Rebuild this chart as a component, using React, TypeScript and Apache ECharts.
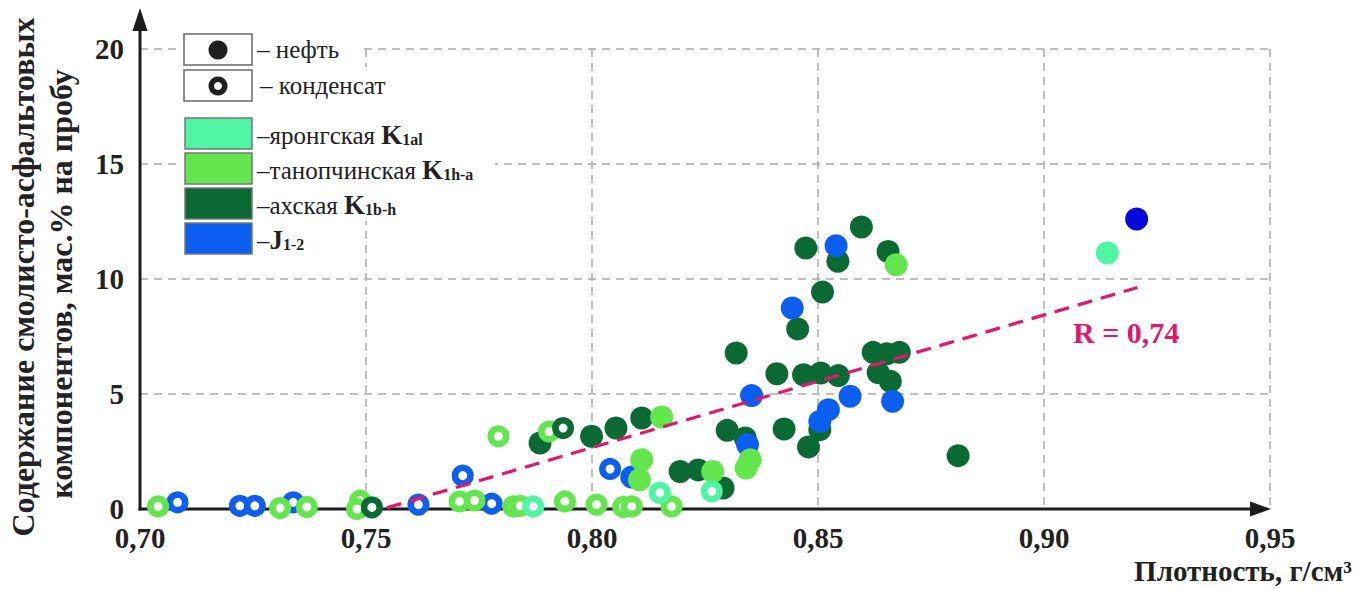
import React, { useEffect, useRef } from 'react';
import * as echarts from 'echarts';

// ---------- data ----------
const xTickStart = 0.7;
const xTickEnd = 0.95;
const xTickStep = 0.05;
const yTickStart = 0;
const yTickEnd = 20;
const yTickStep = 5;

const legendTypes = ['нефть', 'конденсат'];
const legendSuites = ['яронгская', 'танопчинская', 'ахская', ''];
const legendIndexMain = ['K', 'K', 'K', 'J'];
const legendIndexSub = ['1al', '1h-a', '1b-h', '1-2'];

// яронгская K1al
const yrongOil = [[0.914, 11.13]];
const yrongCond = [[0.787, 0.11], [0.815, 0.7], [0.8265, 0.77]];

// танопчинская K1h-a
const tanOil = [
  [0.811, 2.14], [0.8105, 1.27], [0.8154, 4.0], [0.8267, 1.63],
  [0.835, 2.14], [0.8341, 1.78], [0.8673, 10.62],
];
const tanCond = [
  [0.704, 0.11], [0.731, 0.04], [0.7369, 0.09], [0.7487, 0.36], [0.748, 0.0],
  [0.7707, 0.33], [0.774, 0.37], [0.7793, 3.16], [0.7826, 0.11], [0.7841, 0.14],
  [0.7905, 3.37], [0.794, 0.33], [0.801, 0.19], [0.8069, 0.09], [0.8088, 0.11],
  [0.8176, 0.11],
];

// ахская K1b-h
const akhOil = [
  [0.7885, 2.87], [0.7999, 3.16], [0.8053, 3.52], [0.811, 3.96], [0.8195, 1.63],
  [0.8235, 1.7], [0.829, 0.91], [0.8299, 3.42], [0.8339, 3.09], [0.8319, 6.78],
  [0.8409, 5.88], [0.8425, 3.48], [0.8455, 7.83], [0.8468, 5.84], [0.8473, 11.35],
  [0.8479, 2.7], [0.8504, 3.45], [0.8506, 5.91], [0.851, 9.43], [0.8544, 10.77],
  [0.8545, 5.8], [0.8596, 12.26], [0.8622, 6.81], [0.8652, 6.75], [0.868, 6.81],
  [0.8633, 5.93], [0.866, 5.55], [0.8655, 11.2], [0.881, 2.32],
];
const akhCond = [[0.7513, 0.07], [0.7936, 3.52]];

// J1-2
const jOil = [
  [0.8088, 1.39], [0.8344, 2.8], [0.8353, 4.93], [0.8443, 8.74], [0.8504, 3.81],
  [0.8523, 4.32], [0.854, 11.45], [0.8571, 4.9], [0.8665, 4.68],
];
const jOilDark = [[0.9205, 12.61]];
const jCond = [
  [0.7083, 0.29], [0.7221, 0.14], [0.7254, 0.14], [0.7339, 0.29], [0.7616, 0.19],
  [0.7714, 1.45], [0.7778, 0.23], [0.804, 1.74],
];

// regression line
const trendLine = [[0.7546, 0.05], [0.9207, 9.63]];
const rLabel = 'R = 0,74';

const yTitle1 = 'Содержание смолисто-асфальтовых';
const yTitle2 = 'компонентов, мас.% на пробу';
const xTitle = 'Плотность, г/см³';

// ---------- styles ----------
const C_MINT = '#4ff5a2';
const C_LIGHT = '#63e64d';
const C_DARK = '#0b6a34';
const C_BLUE = '#0c5ef0';
const C_DBLUE = '#0606d8';
const C_PINK = '#e2186c';
const C_AXIS = '#1c1c1c';
const SERIF = 'Liberation Serif';

const FILLED = 23;
const RING = 15.5;
const RING_W = 6.5;

function filled(data: number[][], color: string, name: string) {
  return {
    type: 'scatter', name, data, symbol: 'circle', symbolSize: FILLED,
    itemStyle: { color, opacity: 1 }, z: 2,
  };
}
function ring(data: number[][], color: string, name: string) {
  return {
    type: 'scatter', name, data, symbol: 'circle', symbolSize: RING,
    itemStyle: { color: '#ffffff', borderColor: color, borderWidth: RING_W, opacity: 1 }, z: 2,
  };
}

function txt(size: number, bold: boolean) {
  return { fontSize: size, fontFamily: SERIF, fontWeight: bold ? 'bold' : 'normal' };
}

export default function App() {
  const ref = useRef<HTMLDivElement>(null);

  useEffect(() => {
    document.body.style.margin = '0';
    const chart = echarts.init(ref.current!, null, { renderer: 'svg' });

    const legendX = 185;
    const boxW = 67;
    const boxH = 31;
    const textX = 257;
    const colorRowsY = [118, 153, 188, 223];
    const colorFills = [C_MINT, C_LIGHT, C_DARK, C_BLUE];

    const graphics: any[] = [];
    // white backgrounds behind legend rows
    const bgs = [
      [182, 31, 178, 37],
      [182, 67, 215, 37],
      [182, 104, 256, 46],
      [182, 150, 313, 36],
      [182, 186, 230, 35],
      [182, 221, 138, 36],
    ];
    bgs.forEach((b) => graphics.push({
      type: 'rect', z: 3, shape: { x: b[0], y: b[1], width: b[2], height: b[3] },
      style: { fill: '#ffffff' },
    }));
    // type boxes
    [34, 70].forEach((y, i) => {
      graphics.push({
        type: 'rect', z: 4, shape: { x: legendX - 1, y, width: boxW + 1, height: boxH },
        style: { fill: '#ffffff', stroke: '#6a6a6a', lineWidth: 1.5 },
      });
      graphics.push({
        type: 'text', z: 4, x: i === 0 ? textX : textX + 3, y: y + boxH / 2,
        style: {
          text: '– ' + legendTypes[i], fill: '#222',
          ...txt(25, false), verticalAlign: 'middle', textVerticalAlign: 'middle',
        },
      });
    });
    graphics.push({
      type: 'circle', z: 5, shape: { cx: 218, cy: 50, r: 9.5 }, style: { fill: '#1e1e1e' },
    });
    graphics.push({
      type: 'ring', z: 5, shape: { cx: 218, cy: 86, r: 9.5, r0: 4 }, style: { fill: '#1e1e1e' },
    });
    colorRowsY.forEach((y, i) => {
      graphics.push({
        type: 'rect', z: 4, shape: { x: legendX, y, width: boxW, height: boxH },
        style: { fill: colorFills[i], stroke: '#777', lineWidth: 1.5 },
      });
      const suite = legendSuites[i] ? legendSuites[i] + ' ' : '';
      graphics.push({
        type: 'text', z: 4, x: textX, y: y + boxH / 2 + 1,
        style: {
          text: `{d|–}{t|${suite}}{k|${legendIndexMain[i]}}{s|${legendIndexSub[i]}}`,
          verticalAlign: 'middle', textVerticalAlign: 'middle',
          rich: {
            d: { ...txt(25, false), fill: '#222', verticalAlign: 'bottom' },
            t: { ...txt(25, false), fill: '#222', verticalAlign: 'bottom' },
            k: { ...txt(27, true), fill: '#222', verticalAlign: 'bottom' },
            s: { ...txt(16, true), fill: '#222', verticalAlign: 'bottom', padding: [0, 0, 1, 0] },
          },
        },
      });
    });

    // axes drawn as arrows
    graphics.push({
      type: 'line', z: 1, shape: { x1: 140, y1: 510.5, x2: 140, y2: 26 },
      style: { stroke: C_AXIS, lineWidth: 3 },
    });
    graphics.push({
      type: 'polygon', z: 1, shape: { points: [[140, 8], [132.5, 31], [147.5, 31]] },
      style: { fill: C_AXIS },
    });
    graphics.push({
      type: 'line', z: 1, shape: { x1: 138.5, y1: 509, x2: 1255, y2: 509 },
      style: { stroke: C_AXIS, lineWidth: 3 },
    });
    graphics.push({
      type: 'polygon', z: 1, shape: { points: [[1271, 509], [1250, 501.5], [1250, 516.5]] },
      style: { fill: C_AXIS },
    });

    // titles
    graphics.push({
      type: 'text', z: 4, x: 23, y: 277, rotation: Math.PI / 2,
      style: {
        text: yTitle1, fill: '#222', ...txt(32, true),
        align: 'center', textAlign: 'center', verticalAlign: 'middle', textVerticalAlign: 'middle',
      },
    });
    graphics.push({
      type: 'text', z: 4, x: 61, y: 284, rotation: Math.PI / 2,
      style: {
        text: yTitle2, fill: '#222', ...txt(32, true),
        align: 'center', textAlign: 'center', verticalAlign: 'middle', textVerticalAlign: 'middle',
      },
    });
    graphics.push({
      type: 'text', z: 4, x: 1352, y: 571,
      style: {
        text: xTitle, fill: '#222', ...txt(29, true),
        align: 'right', textAlign: 'right', verticalAlign: 'middle', textVerticalAlign: 'middle',
      },
    });
    graphics.push({
      type: 'text', z: 6, x: 1073, y: 332,
      style: {
        text: rLabel, fill: C_PINK, ...txt(30, true),
        align: 'left', textAlign: 'left', verticalAlign: 'middle', textVerticalAlign: 'middle',
      },
    });

    const splitStyle = { show: true, lineStyle: { color: '#ababab', width: 1.5, type: [8, 6] } };

    chart.setOption({
      animation: false,
      backgroundColor: '#ffffff',
      textStyle: { fontFamily: SERIF },
      grid: { left: 140, right: 92, top: 49, bottom: 80, containLabel: false },
      xAxis: {
        type: 'value', min: xTickStart, max: xTickEnd, interval: xTickStep,
        axisLine: { show: false }, axisTick: { show: false },
        splitLine: splitStyle,
        axisLabel: {
          margin: 14, color: '#222', fontFamily: SERIF, fontWeight: 'bold', fontSize: 29,
          formatter: (v: number) => v.toFixed(2).replace('.', ','),
        },
      },
      yAxis: {
        type: 'value', min: yTickStart, max: yTickEnd, interval: yTickStep,
        axisLine: { show: false }, axisTick: { show: false },
        splitLine: splitStyle,
        axisLabel: {
          margin: 16, color: '#222', fontFamily: SERIF, fontWeight: 'bold', fontSize: 29,
        },
      },
      graphic: { elements: graphics },
      series: [
        filled(akhOil, C_DARK, 'ахская нефть'),
        filled(jOil, C_BLUE, 'J нефть'),
        filled(jOilDark, C_DBLUE, 'J нефть 2'),
        filled(tanOil, C_LIGHT, 'танопчинская нефть'),
        filled(yrongOil, C_MINT, 'яронгская нефть'),
        ring(jCond, C_BLUE, 'J конденсат'),
        ring(tanCond, C_LIGHT, 'танопчинская конденсат'),
        ring(yrongCond, C_MINT, 'яронгская конденсат'),
        ring(akhCond, C_DARK, 'ахская конденсат'),
        {
          type: 'line', name: 'тренд', data: trendLine, symbol: 'none', z: 5,
          lineStyle: { color: C_PINK, width: 3.2, type: [15, 9] },
        },
      ],
    });

    return () => chart.dispose();
  }, []);

  return <div ref={ref} style={{ width: 1362, height: 589 }} />;
}
